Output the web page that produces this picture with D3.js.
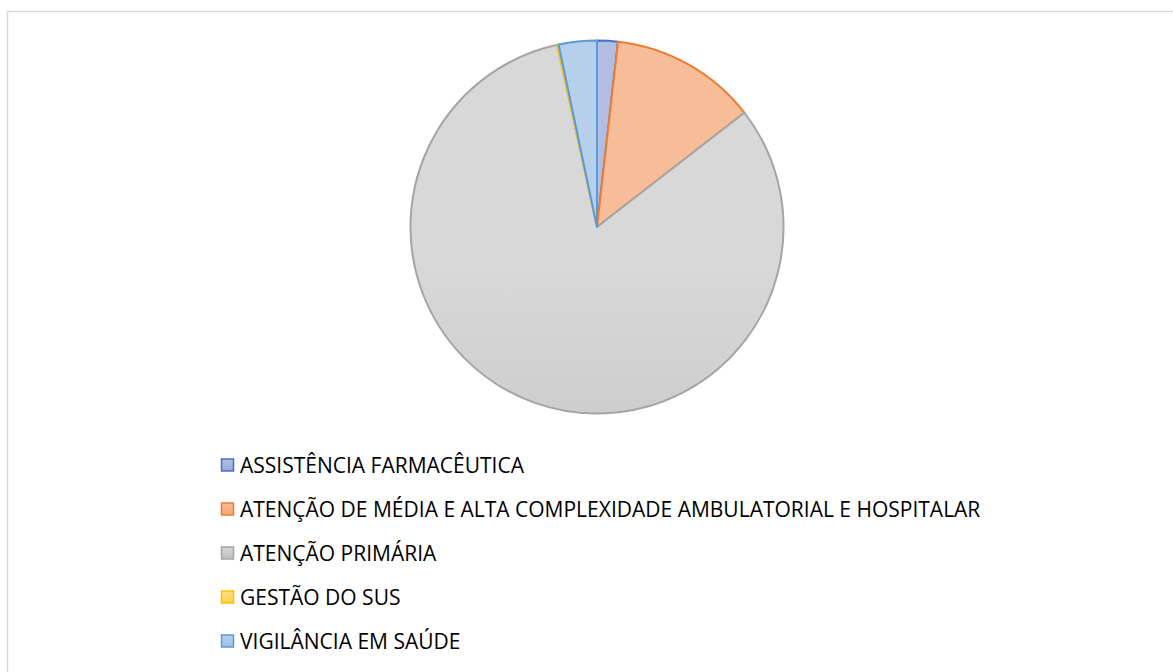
<!DOCTYPE html>
<html>
<head>
<meta charset="utf-8">
<script src="https://cdn.jsdelivr.net/npm/d3@7"></script>
<style>
  body { margin: 0; background: #fff; }
  svg { display: block; }
</style>
</head>
<body>
<div class="graph"></div>
<script>
// categories and share values (%)
const categories = [
    'ASSISTÊNCIA FARMACÊUTICA',
    'ATENÇÃO DE MÉDIA E ALTA COMPLEXIDADE AMBULATORIAL E HOSPITALAR',
    'ATENÇÃO PRIMÁRIA',
    'GESTÃO DO SUS',
    'VIGILÂNCIA EM SAÚDE'
];
const values = [1.8, 12.7, 82.1, 0.12, 3.3];

const fillTop = ['#b2bde3', '#f7bc98', '#d8d8d8', '#ffe08a', '#b6d0ec'];
const fillBottom = ['#9aaad8', '#f2a877', '#bebebe', '#ffd24d', '#9fbfe4'];
const strokes = ['#4472c4', '#ed7d31', '#a5a5a5', '#ffc000', '#5b9bd5'];

const W = 1173, H = 672;
const cx = 597, cy = 227, r = 186.5;

const svg = d3.select('.graph').append('svg').attr('width', W).attr('height', H);

// chart area border
svg.append('rect')
    .attr('x', 7.5).attr('y', 11.5)
    .attr('width', W + 10).attr('height', H + 10)
    .attr('fill', '#fff')
    .attr('stroke', '#d9d9d9')
    .attr('stroke-width', 1.5);

const defs = svg.append('defs');
categories.forEach((c, i) => {
    const g = defs.append('linearGradient')
        .attr('id', 'grad' + i)
        .attr('gradientUnits', 'userSpaceOnUse')
        .attr('x1', 0).attr('y1', cy - r)
        .attr('x2', 0).attr('y2', cy + r);
    g.append('stop').attr('offset', '0%').attr('stop-color', fillTop[i]);
    g.append('stop').attr('offset', '100%').attr('stop-color', fillBottom[i]);
    const lg = defs.append('linearGradient')
        .attr('id', 'lgrad' + i)
        .attr('x1', 0).attr('y1', 0).attr('x2', 0).attr('y2', 1);
    lg.append('stop').attr('offset', '0%').attr('stop-color', fillTop[i]);
    lg.append('stop').attr('offset', '100%').attr('stop-color', fillBottom[i]);
});

const pie = d3.pie().sort(null).value(d => d);
const arc = d3.arc().innerRadius(0).outerRadius(r);

svg.append('g')
    .attr('transform', `translate(${cx},${cy})`)
    .selectAll('path')
    .data(pie(values))
    .enter()
    .append('path')
    .attr('d', arc)
    .attr('fill', (d, i) => `url(#grad${i})`)
    .attr('stroke', (d, i) => strokes[i])
    .attr('stroke-width', 2)
    .attr('stroke-linejoin', 'round');

// legend
const legend = svg.append('g');
const rows = legend.selectAll('g')
    .data(categories)
    .enter()
    .append('g')
    .attr('transform', (d, i) => `translate(221,${465 + i * 44})`);

rows.append('rect')
    .attr('x', 0.5).attr('y', -6)
    .attr('width', 12).attr('height', 12)
    .attr('fill', (d, i) => `url(#lgrad${i})`)
    .attr('stroke', (d, i) => strokes[i])
    .attr('stroke-width', 1.5);

rows.append('text')
    .attr('x', 19)
    .attr('y', 0)
    .attr('dy', '0.36em')
    .attr('font-family', 'Open Sans, sans-serif')
    .attr('font-size', 21)
    .attr('fill', '#000')
    .text(d => d);
</script>
</body>
</html>
